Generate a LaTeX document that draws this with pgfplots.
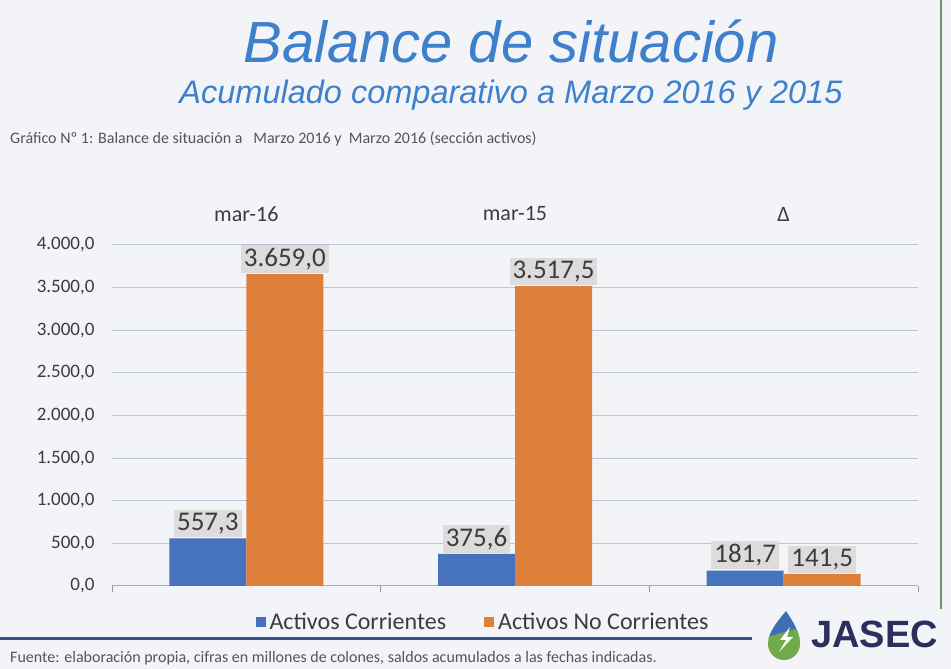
\documentclass[border=0pt]{standalone}
\usepackage{pgfplots}
\pgfplotsset{compat=1.18}
\usepackage{fontspec}
\setmainfont{Carlito}
\newfontfamily\arialfont{Liberation Sans}
\definecolor{bg}{RGB}{243,244,247}
\definecolor{barblue}{RGB}{70,114,190}
\definecolor{barorange}{RGB}{222,128,60}
\definecolor{titleblue}{RGB}{62,128,204}
\definecolor{txt}{RGB}{60,60,60}
\definecolor{smalltxt}{RGB}{85,85,85}
\definecolor{gridc}{RGB}{186,196,224}
\definecolor{lblbg}{RGB}{221,219,219}
\definecolor{rulec}{RGB}{58,78,140}
\definecolor{navy}{RGB}{44,47,94}
\definecolor{dropblue}{RGB}{62,110,182}
\definecolor{dropgreen}{RGB}{112,170,74}
\definecolor{edgegreen}{RGB}{110,150,90}
\definecolor{axisc}{RGB}{170,170,175}
\definecolor{tickc}{RGB}{150,150,155}
\begin{document}
\begin{tikzpicture}[x=1pt,y=1pt]
\fill[bg] (0,0) rectangle (951,669);
\useasboundingbox (0,0) rectangle (951,669);
% titles
\node[anchor=base, inner sep=0pt, text=titleblue, font=\arialfont\itshape\fontsize{58}{60}\selectfont] at (511,606) {Balance de situación};
\node[anchor=base, inner sep=0pt, text=titleblue, font=\arialfont\itshape\fontsize{32.5}{34}\selectfont] at (511,565) {Acumulado comparativo a Marzo 2016 y 2015};
\node[anchor=base west, inner sep=0pt, text=smalltxt, font=\fontsize{16}{18}\selectfont] at (10,525) {Gráfico Nº 1: Balance de situación a \ \ Marzo 2016 y \ Marzo 2016 (sección activos)};
% right edge line
\draw[edgegreen, line width=2pt] (941,60) -- (941,669);
% bottom rule and footer
\draw[rulec, line width=3pt] (0,30) -- (752,30);
\node[anchor=base west, inner sep=0pt, text=smalltxt, font=\fontsize{16}{18}\selectfont] at (10,6) {Fuente: elaboración propia, cifras en millones de colones, saldos acumulados a las fechas indicadas.};
% logo
\begin{scope}
\clip (786,58) .. controls (776,46) and (768,36) .. (768,25) arc[start angle=180, end angle=360, radius=16] .. controls (800,36) and (794,46) .. (786,58) -- cycle;
\fill[dropblue] (760,30) rectangle (810,62);
\fill[dropgreen] (760,0) rectangle (810,30);
\fill[dropgreen] (760,30) -- (810,44) -- (810,30) -- cycle;
\fill[white] (790,42) -- (780,29) -- (786,29) -- (779,17) -- (793,32) -- (787,32) -- cycle;
\end{scope}
\node[anchor=base west, inner sep=0pt, text=navy, font=\arialfont\bfseries\fontsize{38}{40}\selectfont] at (811,21) {JASEC};
\begin{axis}[
  at={(112pt,83pt)}, anchor=south west,
  scale only axis, width=806pt, height=341pt,
  ybar=0pt, bar width=77pt,
  xmin=-0.5, xmax=2.5, ymin=0, ymax=4000,
  axis x line=bottom, axis y line=left,
  x axis line style={draw=axisc, line width=1pt, -},
  y axis line style={draw=none},
  xtick={-0.5,0.5,1.5,2.5}, xticklabels={},
  xtick style={draw=tickc, line width=0.8pt},
  tick align=outside, major tick length=6pt,
  ytick={0,500,...,4000},
  ytick style={draw=none},
  ymajorgrids, grid style={gridc, line width=1pt},
  /pgf/number format/.cd, fixed, fixed zerofill, precision=1, use comma, 1000 sep={.}, assume math mode=true,
  /pgfplots/.cd,
  yticklabel style={font=\fontsize{19}{21}\selectfont, text=txt, xshift=-8pt},
  nodes near coords,
  every node near coord/.append style={font=\fontsize{27}{29}\selectfont, text=txt, fill=lblbg, inner sep=3pt, anchor=south, yshift=1pt},
  legend style={at={(0.4615,-0.106)}, anchor=center, legend columns=2, draw=none, fill=none,
    font=\fontsize{24}{26}\selectfont, text=txt,
    nodes={inner xsep=4pt},
    /tikz/every even column/.append style={column sep=34pt}},
  clip=false,
]
\addplot[fill=barblue, draw=none, legend image code/.code={\fill[barblue] (0pt,-5pt) rectangle (10pt,5pt);}]
  coordinates {(0,557.3) (1,375.6) (2,181.7)};
\addplot[fill=barorange, draw=none, legend image code/.code={\fill[barorange] (0pt,-5pt) rectangle (10pt,5pt);}]
  coordinates {(0,3659.0) (1,3517.5) (2,141.5)};
\legend{Activos Corrientes, Activos No Corrientes}
\node[font=\fontsize{22}{24}\selectfont, text=txt] at (axis cs:0,4000) [yshift=31pt] {mar-16};
\node[font=\fontsize{22}{24}\selectfont, text=txt] at (axis cs:1,4000) [yshift=31pt] {mar-15};
\node[font=\fontsize{22}{24}\selectfont, text=txt] at (axis cs:2,4000) [yshift=31pt] {Δ};
\end{axis}
\end{tikzpicture}
\end{document}
